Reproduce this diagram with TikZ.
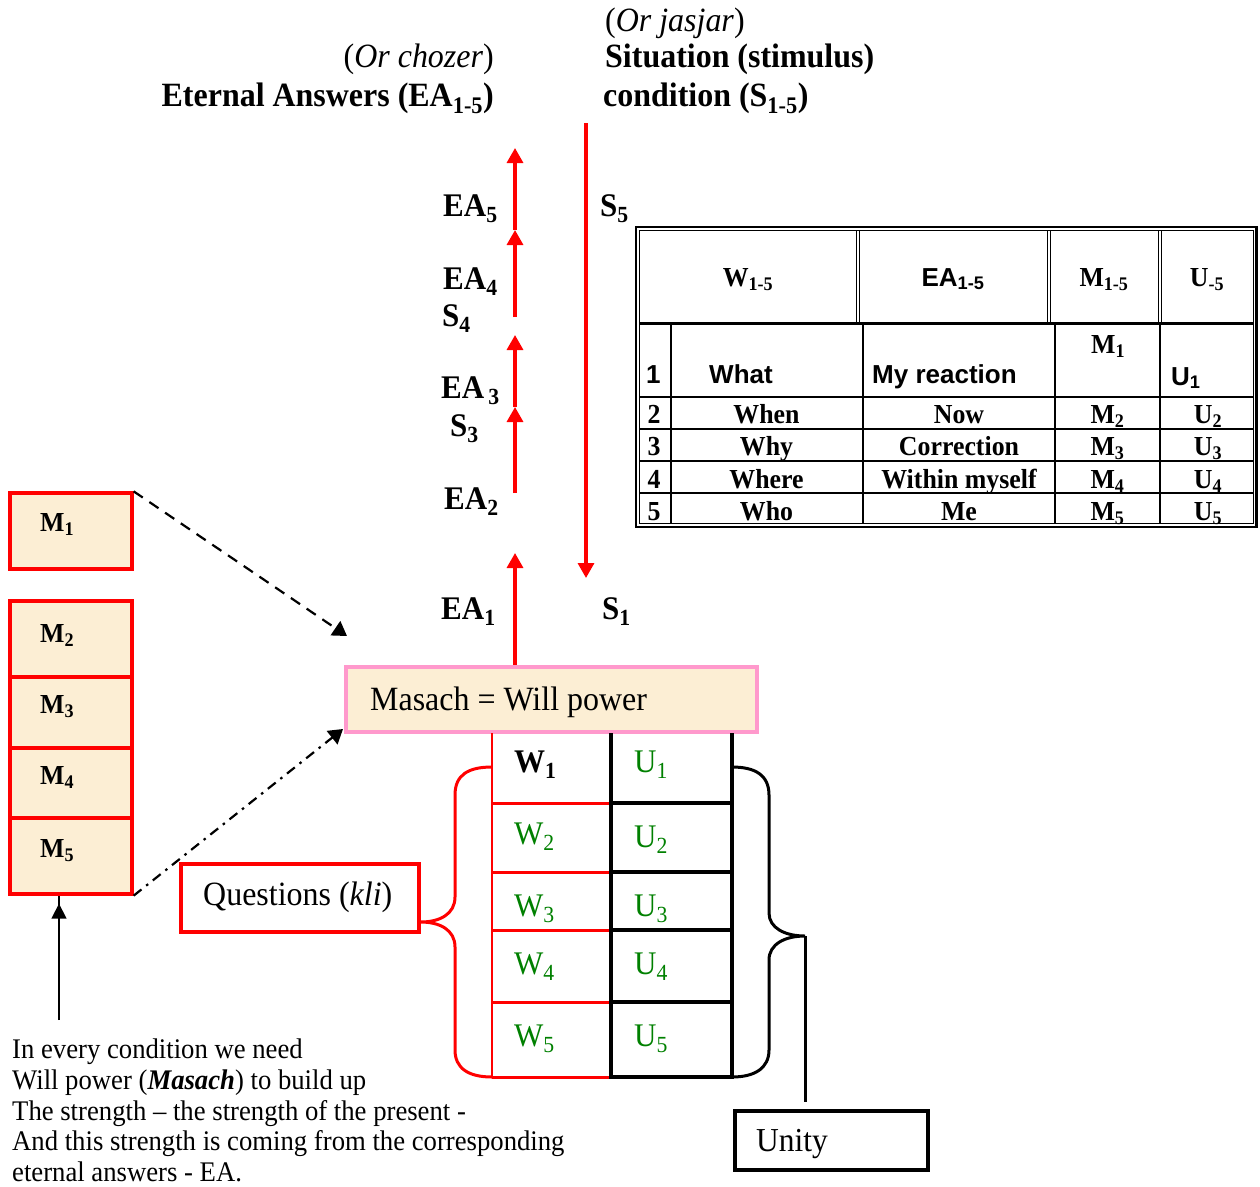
\documentclass[tikz,border=0pt]{standalone}
\usepackage{fontspec}
\setmainfont{Liberation Serif}[FakeStretch=0.94]
\setsansfont{Liberation Sans}
\usetikzlibrary{arrows.meta}
\definecolor{wred}{HTML}{FF0000}
\definecolor{wpink}{HTML}{FF99CC}
\definecolor{wbeige}{HTML}{FCEED4}
\definecolor{wgreen}{HTML}{008000}
\newcommand\fs[1]{\fontsize{#1}{#1}\selectfont}
\newcommand\sbs[1]{\textsubscript{#1}}
\begin{document}
\begin{tikzpicture}[x=1pt,y=-1pt,
  txt/.style={inner sep=0pt, anchor=base west},
  big/.style={txt, font=\fs{33}\bfseries},
  tabs/.style={inner sep=0pt, anchor=base, font=\fs{27.5}\bfseries},
  taba/.style={inner sep=0pt, anchor=base west, font=\sffamily\bfseries\fs{26}},
  wu/.style={txt, font=\fs{33}, text=wgreen},
  redarrow/.style={draw=wred, line width=3.3pt, -{Triangle[width=16pt,length=15pt]}},
  mbox/.style={draw=wred, line width=3.3pt, fill=wbeige, minimum width=122pt, inner sep=0pt},
  mlab/.style={txt, font=\fs{27.5}\bfseries},
  gridred/.style={draw=wred, line width=3pt},
  gridblk/.style={draw=black, line width=3.2pt},
  blkarrow/.style={line width=2.2pt, -{Triangle[width=17pt,length=14pt]}}
]
\useasboundingbox (0,0) rectangle (1260,1186);

% ---------- top titles ----------
\node[txt, font=\fs{34}] (orj) at (605,31) {(\textit{Or jasjar})};
\node[txt, font=\fs{34}\bfseries] (sit) at (605,67) {Situation (stimulus)};
\node[txt, font=\fs{34}\bfseries] (cond) at (603,106) {condition (S\sbs{1-5})};
\node[inner sep=0pt, anchor=base east, font=\fs{34}] (orc) at (494,67) {(\textit{Or chozer})};
\node[inner sep=0pt, anchor=base east, font=\fs{34}\bfseries] (eter) at (494,106) {Eternal Answers (EA\sbs{1-5})};

% ---------- arrows ----------
\coordinate (dtop) at (586,123);
\coordinate (dbot) at (586,578);
\draw[redarrow] (dtop) -- (dbot);

\coordinate (a1) at (515,553);
\coordinate (b0) at (515,493);
\coordinate (b1) at (515,407);
\coordinate (b2) at (515,335);
\coordinate (c0) at (515,317);
\coordinate (c1) at (515,230);
\coordinate (c2) at (515,148);
\draw[redarrow] (b0) -- (b1);
\draw[redarrow] (b1) -- (b2);
\draw[redarrow] (c0) -- (c1);
\draw[redarrow] (c1) -- (c2);

% ---------- EA / S labels ----------
\node[big] (ea5) at (443,216) {EA\sbs{5}};
\node[big] (s5) at (600,216) {S\sbs{5}};
\node[big] (ea4) at (443,289) {EA\sbs{4}};
\node[big] (s4) at (442,326) {S\sbs{4}};
\node[big] (ea3) at (441,398) {EA\hspace{0.12em}\sbs{3}};
\node[big] (s3) at (450,436) {S\sbs{3}};
\node[big] (ea2) at (444,509) {EA\sbs{2}};
\node[big] (ea1) at (441,619) {EA\sbs{1}};
\node[big] (s1) at (602,619) {S\sbs{1}};

% ---------- table ----------
\draw[line width=2.2pt] (636,227) rectangle (1256.5,527);
\draw[line width=1pt] (639.5,230.5) rectangle (1253,523.8);
\foreach \x in {856,1047,1158}{
  \draw[line width=1pt] (\x,230.5) -- (\x,322);
  \draw[line width=1pt] (\x+3,230.5) -- (\x+3,322);
}
\draw[line width=3pt] (639.5,323.5) -- (1253,323.5);
\foreach \x in {670.5,863,1055,1160}{
  \draw[line width=2pt] (\x,325) -- (\x,523.8);
}
\foreach \y in {396.7,428.6,460.6,492.7}{
  \draw[line width=2pt] (639.5,\y) -- (1253,\y);
}
\node[tabs] (hw) at (748,286) {W\sbs{1-5}};
\node[inner sep=0pt, anchor=base, font=\sffamily\bfseries\fs{26}] (hea) at (953,286) {EA\sbs{1-5}};
\node[tabs] (hm) at (1104,286) {M\sbs{1-5}};
\node[tabs] (hu) at (1207,286) {U\sbs{-5}};

\node[taba] (r1n) at (646,383) {1};
\node[taba] (r1a) at (709,383) {What};
\node[taba] (r1b) at (872,383) {My reaction};
\node[tabs, anchor=base west] (r1c) at (1091,353) {M\sbs{1}};
\node[taba] (r1d) at (1171,385) {U\sbs{1}};

\foreach \n/\yy/\wa/\wb in {2/423/When/Now, 3/455.5/Why/Correction, 4/488/Where/Within myself, 5/520/Who/Me}{
  \node[tabs] (rn\n) at (654,\yy) {\n};
  \node[tabs] (rw\n) at (766.5,\yy) {\wa};
  \node[tabs] (re\n) at (959,\yy) {\wb};
  \node[tabs] (rm\n) at (1107.5,\yy) {M\sbs{\n}};
  \node[tabs] (ru\n) at (1208,\yy) {U\sbs{\n}};
}

% ---------- M boxes ----------
\node[mbox, minimum height=76pt] (m1) at (71,531) {};
\node[mbox, minimum height=76pt] (m2) at (71,639) {};
\node[mbox, minimum height=71pt] (m3) at (71,712.5) {};
\node[mbox, minimum height=70pt] (m4) at (71,783) {};
\node[mbox, minimum height=76pt] (m5) at (71,856) {};
\node[mlab] (m1t) at (40,531) {M\sbs{1}};
\node[mlab] (m2t) at (40,642) {M\sbs{2}};
\node[mlab] (m3t) at (40,713) {M\sbs{3}};
\node[mlab] (m4t) at (40,784) {M\sbs{4}};
\node[mlab] (m5t) at (40,857) {M\sbs{5}};

% ---------- Masach ----------
\node[draw=wpink, line width=4.8pt, fill=wbeige, minimum width=411pt, minimum height=65pt, inner sep=0pt] (mas) at (551.5,699.5) {};
\node[txt, font=\fs{34}] (mast) at (370,710) {Masach = Will power};
\draw[redarrow] (mas.north -| a1) -- (a1);

% dashed arrows to Masach
\coordinate (dtip) at (347,636);
\coordinate (ddtip) at (343,729);
\draw[blkarrow, dash pattern=on 11pt off 8pt] (m1.north east) -- (dtip);
\draw[blkarrow, dash pattern=on 10pt off 6pt on 2.5pt off 6pt] (m5.south east) -- (ddtip);

% ---------- W / U grid ----------
\draw[gridred, line width=2.5pt] (492,733) -- (492,1077);
\foreach \y in {803,872,930,1002,1077}{
  \draw[gridred] (492,\y) -- (611,\y);
  \draw[gridblk] (611,\y) -- (732,\y);
}
\draw[gridblk] (611,733) -- (611,1078.6);
\draw[gridblk] (732,733) -- (732,1078.6);

\node[txt, font=\fs{33}\bfseries] (w1) at (514,772) {W\sbs{1}};
\node[wu] (u1) at (634,772) {U\sbs{1}};
\node[wu] (w2) at (514,844) {W\sbs{2}};
\node[wu] (u2) at (634,847) {U\sbs{2}};
\node[wu] (w3) at (514,916) {W\sbs{3}};
\node[wu] (u3) at (634,916) {U\sbs{3}};
\node[wu] (w4) at (514,974) {W\sbs{4}};
\node[wu] (u4) at (634,974) {U\sbs{4}};
\node[wu] (w5) at (514,1046) {W\sbs{5}};
\node[wu] (u5) at (634,1046) {U\sbs{5}};

% ---------- Questions box + red brace ----------
\node[draw=wred, line width=3.3pt, fill=white, minimum width=238pt, minimum height=68pt, inner sep=0pt] (q) at (300,898) {};
\node[txt, font=\fs{34}] (qt) at (203,905) {Questions (\textit{kli})};
\draw[wred, line width=3pt] (492,767) .. controls (468,767) and (455,775) .. (455,795)
  -- (455,897) .. controls (455,914) and (440,922) .. (q.east |- 0,922)
  .. controls (440,922) and (455,930) .. (455,947)
  -- (455,1050) .. controls (455,1068) and (468,1077) .. (492,1077);

% ---------- Unity box + black brace ----------
\node[draw, line width=3.3pt, minimum width=193pt, minimum height=59pt, inner sep=0pt] (un) at (831.5,1140.5) {};
\node[txt, font=\fs{33.5}] (unt) at (756,1151) {Unity};
\coordinate (btip) at (805,936);
\coordinate (bend) at (805,1102);
\draw[line width=3pt] (732,767) .. controls (755,767) and (769,775) .. (769,795)
  -- (769,913) .. controls (769,928) and (785,936) .. (btip)
  .. controls (785,936) and (769,944) .. (769,960)
  -- (769,1050) .. controls (769,1068) and (755,1077) .. (732,1077);
\draw[line width=3pt] (btip) -- (bend);

% ---------- bottom note ----------
\coordinate (upstart) at (59,1020);
\draw[line width=1.5pt, -{Triangle[width=15pt,length=15pt]}] (upstart) -- (m5.south -| upstart) ++(0,8) coordinate (uptip);
\foreach \i/\yy/\t in {1/1058/{In every condition we need},
                     2/1089/{Will power (\textbf{\textit{Masach}}) to build up},
                     3/1120/{The strength -- the strength of the present -},
                     4/1150.5/{And this strength is coming from the corresponding},
                     5/1181/{eternal answers - EA.}}{
  \node[txt, font=\fs{28.4}] (bt\i) at (12,\yy) {\t};
}
\end{tikzpicture}
\end{document}
